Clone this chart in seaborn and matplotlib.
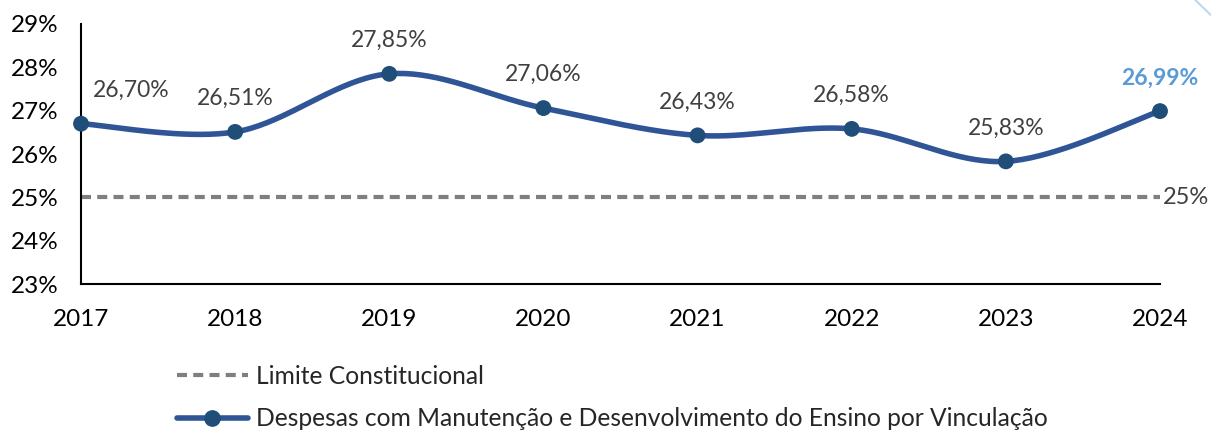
import matplotlib
matplotlib.use("Agg")
import matplotlib.pyplot as plt
import matplotlib.lines as mlines
import numpy as np
import pandas as pd
import seaborn as sns

anos = ["2017", "2018", "2019", "2020", "2021", "2022", "2023", "2024"]
despesas = [26.70, 26.51, 27.85, 27.06, 26.43, 26.58, 25.83, 26.99]
limite = 25.0
rotulos = ["26,70%", "26,51%", "27,85%", "27,06%", "26,43%", "26,58%", "25,83%", "26,99%"]

COR_LINHA = "#2F5597"
COR_PONTO = "#1F4E79"
COR_LIMITE = "#7F7F7F"
COR_TEXTO = "#404040"


# curva suavizada estilo Excel (Catmull-Rom em forma de Bezier)
def suavizar(x, y, n=40):
    pts = np.column_stack([x, y]).astype(float)
    ext = np.vstack([pts[0], pts, pts[-1]])
    xs, ys = [], []
    for i in range(1, len(ext) - 2):
        p0, p1, p2, p3 = ext[i - 1], ext[i], ext[i + 1], ext[i + 2]
        c1 = p1 + (p2 - p0) / 6
        c2 = p2 - (p3 - p1) / 6
        t = np.linspace(0, 1, n)[:, None]
        b = ((1 - t) ** 3) * p1 + 3 * ((1 - t) ** 2) * t * c1 + 3 * (1 - t) * t ** 2 * c2 + t ** 3 * p2
        xs.extend(b[:, 0])
        ys.extend(b[:, 1])
    return np.array(xs), np.array(ys)


sns.set_style("white")
plt.rcParams["font.family"] = ["Lato", "DejaVu Sans"]

df = pd.DataFrame({"pos": np.arange(len(anos)), "valor": despesas})
sx, sy = suavizar(df["pos"], df["valor"])
curva = pd.DataFrame({"pos": sx, "valor": sy})

fig = plt.figure(figsize=(12.11, 4.33), dpi=100)
ax = fig.add_axes([0.0669, 0.344, 0.891, 0.6006])

ax.axhline(limite, color=COR_LIMITE, lw=3, ls=(0, (2.4, 1.5)), zorder=1)
sns.lineplot(data=curva, x="pos", y="valor", ax=ax, color=COR_LINHA, lw=4,
             sort=False, zorder=2, estimator=None)
sns.scatterplot(data=df, x="pos", y="valor", ax=ax, color=COR_PONTO, s=130,
                edgecolor="none", zorder=3, clip_on=False)

for i, (v, r) in enumerate(zip(despesas, rotulos)):
    dx = 36 if i == 0 else 0
    ultimo = i == len(despesas) - 1
    ax.annotate(r, (i, v), xytext=(dx, 24), textcoords="offset points",
                ha="center", va="center", fontsize=16.5,
                color="#5B9BD5" if ultimo else COR_TEXTO,
                fontweight="bold" if ultimo else "normal")

ax.annotate("25%", (len(anos) - 1, limite), xytext=(2, 0), textcoords="offset points",
            ha="left", va="center", fontsize=17, color=COR_TEXTO, annotation_clip=False)

ax.set_xlim(0, len(anos) - 1)
ax.set_ylim(23, 29)
ax.set_xticks(range(len(anos)))
ax.set_xticklabels(anos)
ax.set_yticks(range(23, 30))
ax.set_yticklabels([f"{t}%" for t in range(23, 30)])
ax.tick_params(axis="both", length=0, labelsize=17.5, colors="black")
ax.tick_params(axis="x", pad=18)
ax.tick_params(axis="y", pad=16)
ax.set_xlabel("")
ax.set_ylabel("")
for lado in ["top", "right"]:
    ax.spines[lado].set_visible(False)
for lado in ["left", "bottom"]:
    ax.spines[lado].set_color("black")
    ax.spines[lado].set_linewidth(1.5)

h1 = mlines.Line2D([], [], color=COR_LIMITE, lw=3, ls=(0, (2.4, 1.5)))
h2 = mlines.Line2D([], [], color=COR_LINHA, lw=4, marker="o", markersize=11,
                   markerfacecolor=COR_PONTO, markeredgecolor=COR_PONTO)
fig.legend([h1, h2], ["Limite Constitucional",
                      "Despesas com Manutenção e Desenvolvimento do Ensino por Vinculação"],
           loc="upper left", bbox_to_anchor=(0.146, 0.158), frameon=False,
           fontsize=17.7, handlelength=2.9, handletextpad=0.33, labelspacing=0.8,
           borderaxespad=0, borderpad=0)

fig.add_artist(mlines.Line2D([0.987, 1.0], [1.0, 0.965], color="#BDD7EE", lw=1.5))

fig.savefig("out.png", dpi=100)
plt.close(fig)
